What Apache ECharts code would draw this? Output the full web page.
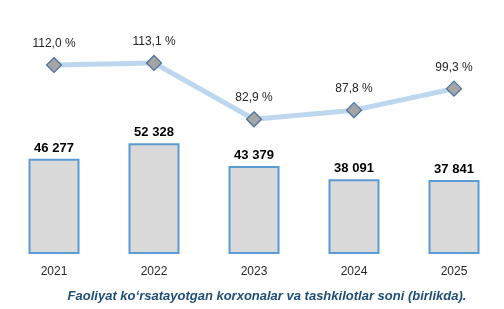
<!DOCTYPE html>
<html><head><meta charset="utf-8">
<script src="https://cdn.jsdelivr.net/npm/echarts@6/dist/echarts.min.js"></script>
<style>html,body{margin:0;padding:0;background:#fff}#c{width:504px;height:309px}</style>
</head><body><div id="c"></div>
<script>
const years = ['2021','2022','2023','2024','2025'];
const counts = [46277, 52328, 43379, 38091, 37841];
const growth = [112.0, 113.1, 82.9, 87.8, 99.3];
const title = 'Faoliyat ko\u2018rsatayotgan korxonalar va tashkilotlar soni (birlikda).';

const fmtCount = v => String(v).replace(/\B(?=(\d{3})+(?!\d))/g, ' ');
const fmtPct = v => v.toFixed(1).replace('.', ',') + ' %';

const chart = echarts.init(document.getElementById('c'), null, {renderer:'canvas'});
chart.setOption({
  animation: false,
  backgroundColor: '#ffffff',
  textStyle: {fontFamily: 'Liberation Sans, Arial, sans-serif'},
  title: {
    text: title, left: 262, textAlign: 'center', top: 285,
    textStyle: {fontSize: 13, fontWeight: 'bold', fontStyle: 'italic', color: '#1f4e79', fontFamily: 'Liberation Sans, Arial, sans-serif'}
  },
  grid: {left: 4, right: 0, top: 10, bottom: 56},
  xAxis: {
    type: 'category', data: years,
    axisLine: {show: false}, axisTick: {show: false},
    axisLabel: {fontSize: 12, color: '#262626', margin: 13}
  },
  yAxis: [
    {type: 'value', min: 9000, max: 105000, show: false, splitLine: {show: false}},
    {type: 'value', min: 11.2, max: 141.5, show: false, splitLine: {show: false}}
  ],
  series: [
    {
      type: 'bar', data: counts, barWidth: 51, yAxisIndex: 0,
      itemStyle: {color: '#d9d9d9', borderColor: '#5b9bd5', borderWidth: 2},
      label: {show: true, position: 'top', distance: 4, fontSize: 13, fontWeight: 'bold', color: '#000', formatter: p => fmtCount(p.value)}
    },
    {
      type: 'line', data: growth, yAxisIndex: 1,
      lineStyle: {color: '#bdd7ee', width: 5},
      symbol: 'diamond', symbolSize: 15,
      itemStyle: {color: '#a5a5a5', borderColor: '#4a6f9c', borderWidth: 1.2},
      label: {show: true, position: 'top', distance: 7, fontSize: 12, color: '#262626', formatter: p => fmtPct(p.value)},
      z: 5
    }
  ]
});
</script></body></html>
